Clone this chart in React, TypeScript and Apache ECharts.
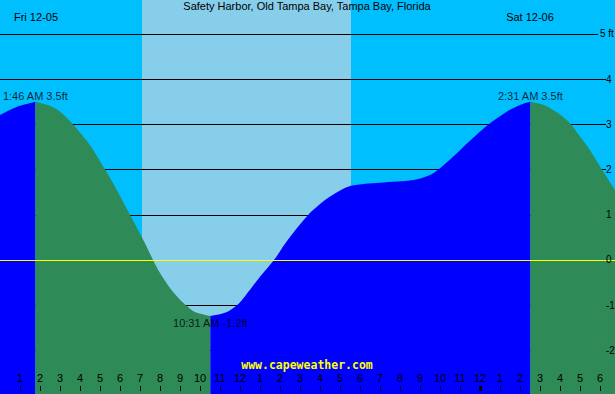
import React, { useEffect, useRef } from "react";
import * as echarts from "echarts";

// ---- data (hours since Fri 12-05 00:00, feet) ----
const tideHours = [
  0, 0.5, 1.0, 1.767, 2.5, 3.0, 3.65, 4.5, 5.25, 5.75, 6.5, 7.25, 7.65, 8.0,
  8.5, 9.0, 9.3, 9.75, 10.517, 11.25, 11.85, 12.25, 13.0, 13.7, 14.25, 14.8,
  15.37, 15.67, 16.17, 16.67, 17.55, 19.0, 20.67, 21.5, 22.0, 23.0, 24.0,
  24.42, 25.33, 26.0, 26.517, 27.25, 28.0, 28.55, 29.0, 29.5, 30.1, 30.75,
];
const tideFeet = [
  3.21, 3.32, 3.41, 3.5, 3.41, 3.28, 3.0, 2.54, 2.0, 1.62, 1.0, 0.37, 0.0, -0.29,
  -0.62, -0.88, -1.0, -1.15, -1.24, -1.17, -1.0, -0.8, -0.37, 0.0, 0.36, 0.68,
  0.98, 1.11, 1.3, 1.45, 1.64, 1.71, 1.77, 1.88, 2.03, 2.43, 2.84,
  3.0, 3.28, 3.43, 3.5, 3.42, 3.22, 3.0, 2.73, 2.43, 2.0, 1.55,
];
const extremeHours = [1.767, 10.517, 26.517];
const extremeFeet = [3.5, -1.24, 3.5];
const extremeLabels = ["1:46 AM 3.5ft", "10:31 AM -1.2ft", "2:31 AM 3.5ft"];
const daylight = [7.1, 17.55];
const hourLabels = [
  "1", "2", "3", "4", "5", "6", "7", "8", "9", "10", "11", "12",
  "1", "2", "3", "4", "5", "6", "7", "8", "9", "10", "11", "12",
  "1", "2", "3", "4", "5", "6",
];
const midnightTicks = [24];
const footTicks = [-2, -1, 0, 1, 2, 3, 4];
const footTopTick = [5];
const footTopLabel = "5 ft";
const dayLabels = ["Fri 12-05", "Sat 12-06"];
const titleText = "Safety Harbor, Old Tampa Bay, Tampa Bay, Florida";
const creditText = "www.capeweather.com";

const X_MIN = 0;
const X_MAX = 30.75;
const Y_MIN = -2.965;
const Y_MAX = 5.752;

const NIGHT = "#00BFFF";
const DAY = "#87CEEB";
const RISING = "#0000FF";
const FALLING = "#2E8B57";
const FONT = "'Liberation Sans', Arial, sans-serif";
const FS = 11;
const FS_Y = 10;

export default function App() {
  const ref = useRef<HTMLDivElement>(null);

  useEffect(() => {
    if (!ref.current) return;
    const chart = echarts.init(ref.current, undefined, { renderer: "svg" });

    const bounds = [X_MIN, ...extremeHours, X_MAX];
    const tickValues = hourLabels.map((_, i) => i + 1);

    const tideSeries: any[] = [];
    for (let s = 0; s < bounds.length - 1; s++) {
      const a = bounds[s];
      const b = bounds[s + 1];
      const pts: number[][] = [];
      tideHours.forEach((h, i) => {
        if (h >= a - 1e-6 && h <= b + 1e-6) pts.push([h, tideFeet[i]]);
      });
      const rising = pts[pts.length - 1][1] > pts[0][1];
      const color = rising ? RISING : FALLING;
      const ser: any = {
        type: "line",
        xAxisIndex: 0,
        yAxisIndex: 0,
        data: pts,
        smooth: 0.3,
        symbol: "none",
        z: 3,
        silent: true,
        lineStyle: { width: 0, color },
        itemStyle: { color },
        areaStyle: { color, opacity: 1, origin: "start" },
      };
      if (s === 0) {
        ser.markArea = {
          silent: true,
          z: 1,
          itemStyle: { color: DAY, opacity: 1 },
          data: [[{ xAxis: daylight[0] }, { xAxis: daylight[1] }]],
        };
      }
      if (s === bounds.length - 2) {
        ser.markLine = {
          silent: true,
          z: 5,
          symbol: ["none", "none"],
          label: { show: false },
          lineStyle: { color: "#FFFF00", width: 1, type: "solid" },
          data: [{ yAxis: 0 }],
        };
      }
      tideSeries.push(ser);
    }

    const textStyle = (text: string, x: number, y: number) => ({
      type: "text",
      x,
      y,
      z: 20,
      style: {
        text,
        fill: "#000",
        font: `${FS}px ${FONT}`,
        align: "center",
        verticalAlign: "middle",
      },
    });

    const gridBase = { left: 0, top: 0, bottom: 0, outerBoundsMode: "none", containLabel: false };
    const hiddenX = (gridIndex: number) => ({
      type: "value",
      gridIndex,
      position: "bottom",
      min: X_MIN,
      max: X_MAX,
      show: false,
      axisLine: { onZero: false },
    });
    const splitLineY = (gridIndex: number, values: number[]) => ({
      type: "value",
      gridIndex,
      min: Y_MIN,
      max: Y_MAX,
      position: "left",
      z: 2,
      axisLine: { show: false, onZero: false },
      axisLabel: { show: false },
      axisTick: { show: false, customValues: values },
      splitLine: { show: true, lineStyle: { color: "#000", width: 1 } },
    });

    const option: any = {
      animation: false,
      backgroundColor: NIGHT,
      grid: [
        { ...gridBase, right: 0 },
        { ...gridBase, right: 9 },
        { ...gridBase, right: 17 },
      ],
      xAxis: [
        {
          type: "value",
          gridIndex: 0,
          position: "bottom",
          min: X_MIN,
          max: X_MAX,
          offset: -3,
          z: 6,
          axisLine: { show: false, onZero: false },
          splitLine: { show: false },
          axisTick: {
            show: true,
            inside: true,
            length: 5,
            customValues: tickValues,
            lineStyle: { color: "#000", width: 1 },
          },
          axisLabel: {
            show: true,
            inside: true,
            margin: 8,
            customValues: tickValues,
            formatter: (v: number) => hourLabels[Math.round(v) - 1] ?? "",
            color: "#000",
            fontFamily: FONT,
            fontSize: FS,
          },
        },
        {
          type: "value",
          gridIndex: 0,
          position: "bottom",
          min: X_MIN,
          max: X_MAX,
          offset: -3,
          z: 6,
          axisLine: { show: false, onZero: false },
          splitLine: { show: false },
          axisLabel: { show: false },
          axisTick: {
            show: true,
            inside: true,
            length: 5,
            customValues: midnightTicks,
            lineStyle: { color: "#000", width: 3 },
          },
        },
        hiddenX(1),
        hiddenX(2),
      ],
      yAxis: [
        { type: "value", gridIndex: 0, min: Y_MIN, max: Y_MAX, show: false, axisLine: { onZero: false } },
        splitLineY(1, footTicks),
        splitLineY(2, footTopTick),
        {
          type: "value",
          gridIndex: 1,
          min: Y_MIN,
          max: Y_MAX,
          position: "right",
          z: 10,
          axisLine: { show: false, onZero: false },
          axisTick: { show: false, customValues: footTicks },
          splitLine: { show: false },
          axisLabel: {
            show: true,
            margin: 0,
            customValues: footTicks,
            formatter: (v: number) => String(Math.round(v)),
            color: "#000",
            fontFamily: FONT,
            fontSize: FS_Y,
          },
        },
        {
          type: "value",
          gridIndex: 1,
          min: Y_MIN,
          max: Y_MAX,
          position: "right",
          offset: -7,
          z: 10,
          axisLine: { show: false, onZero: false },
          axisTick: { show: false, customValues: footTopTick },
          splitLine: { show: false },
          axisLabel: {
            show: true,
            margin: 1,
            customValues: footTopTick,
            formatter: () => footTopLabel,
            color: "#000",
            fontFamily: FONT,
            fontSize: FS_Y,
          },
        },
      ],
      series: [
        ...tideSeries,
        {
          type: "scatter",
          xAxisIndex: 0,
          yAxisIndex: 0,
          z: 8,
          silent: true,
          symbol: "circle",
          symbolSize: 0.1,
          itemStyle: { color: "transparent" },
          data: extremeHours.map((h, i) => ({
            value: [h, extremeFeet[i]],
            label: {
              show: true,
              position: extremeFeet[i] >= 0 ? "top" : "bottom",
              distance: extremeFeet[i] >= 0 ? 0 : 1,
              formatter: extremeLabels[i],
              color: "#000",
              fontFamily: FONT,
              fontSize: FS,
            },
          })),
        },
      ],
      graphic: [
        textStyle(titleText, 307, 6),
        textStyle(dayLabels[0], 36, 17),
        textStyle(dayLabels[1], 530, 17),
        {
          type: "text",
          x: 307,
          y: 365,
          z: 20,
          style: {
            text: creditText,
            fill: "#FFFF00",
            font: `bold 11.5px 'DejaVu Sans Mono', monospace`,
            align: "center",
            verticalAlign: "middle",
          },
        },
      ],
    };

    chart.setOption(option);
    return () => chart.dispose();
  }, []);

  return (
    <div
      ref={ref}
      style={{ position: "fixed", left: 0, top: 0, width: 615, height: 394 }}
    />
  );
}
